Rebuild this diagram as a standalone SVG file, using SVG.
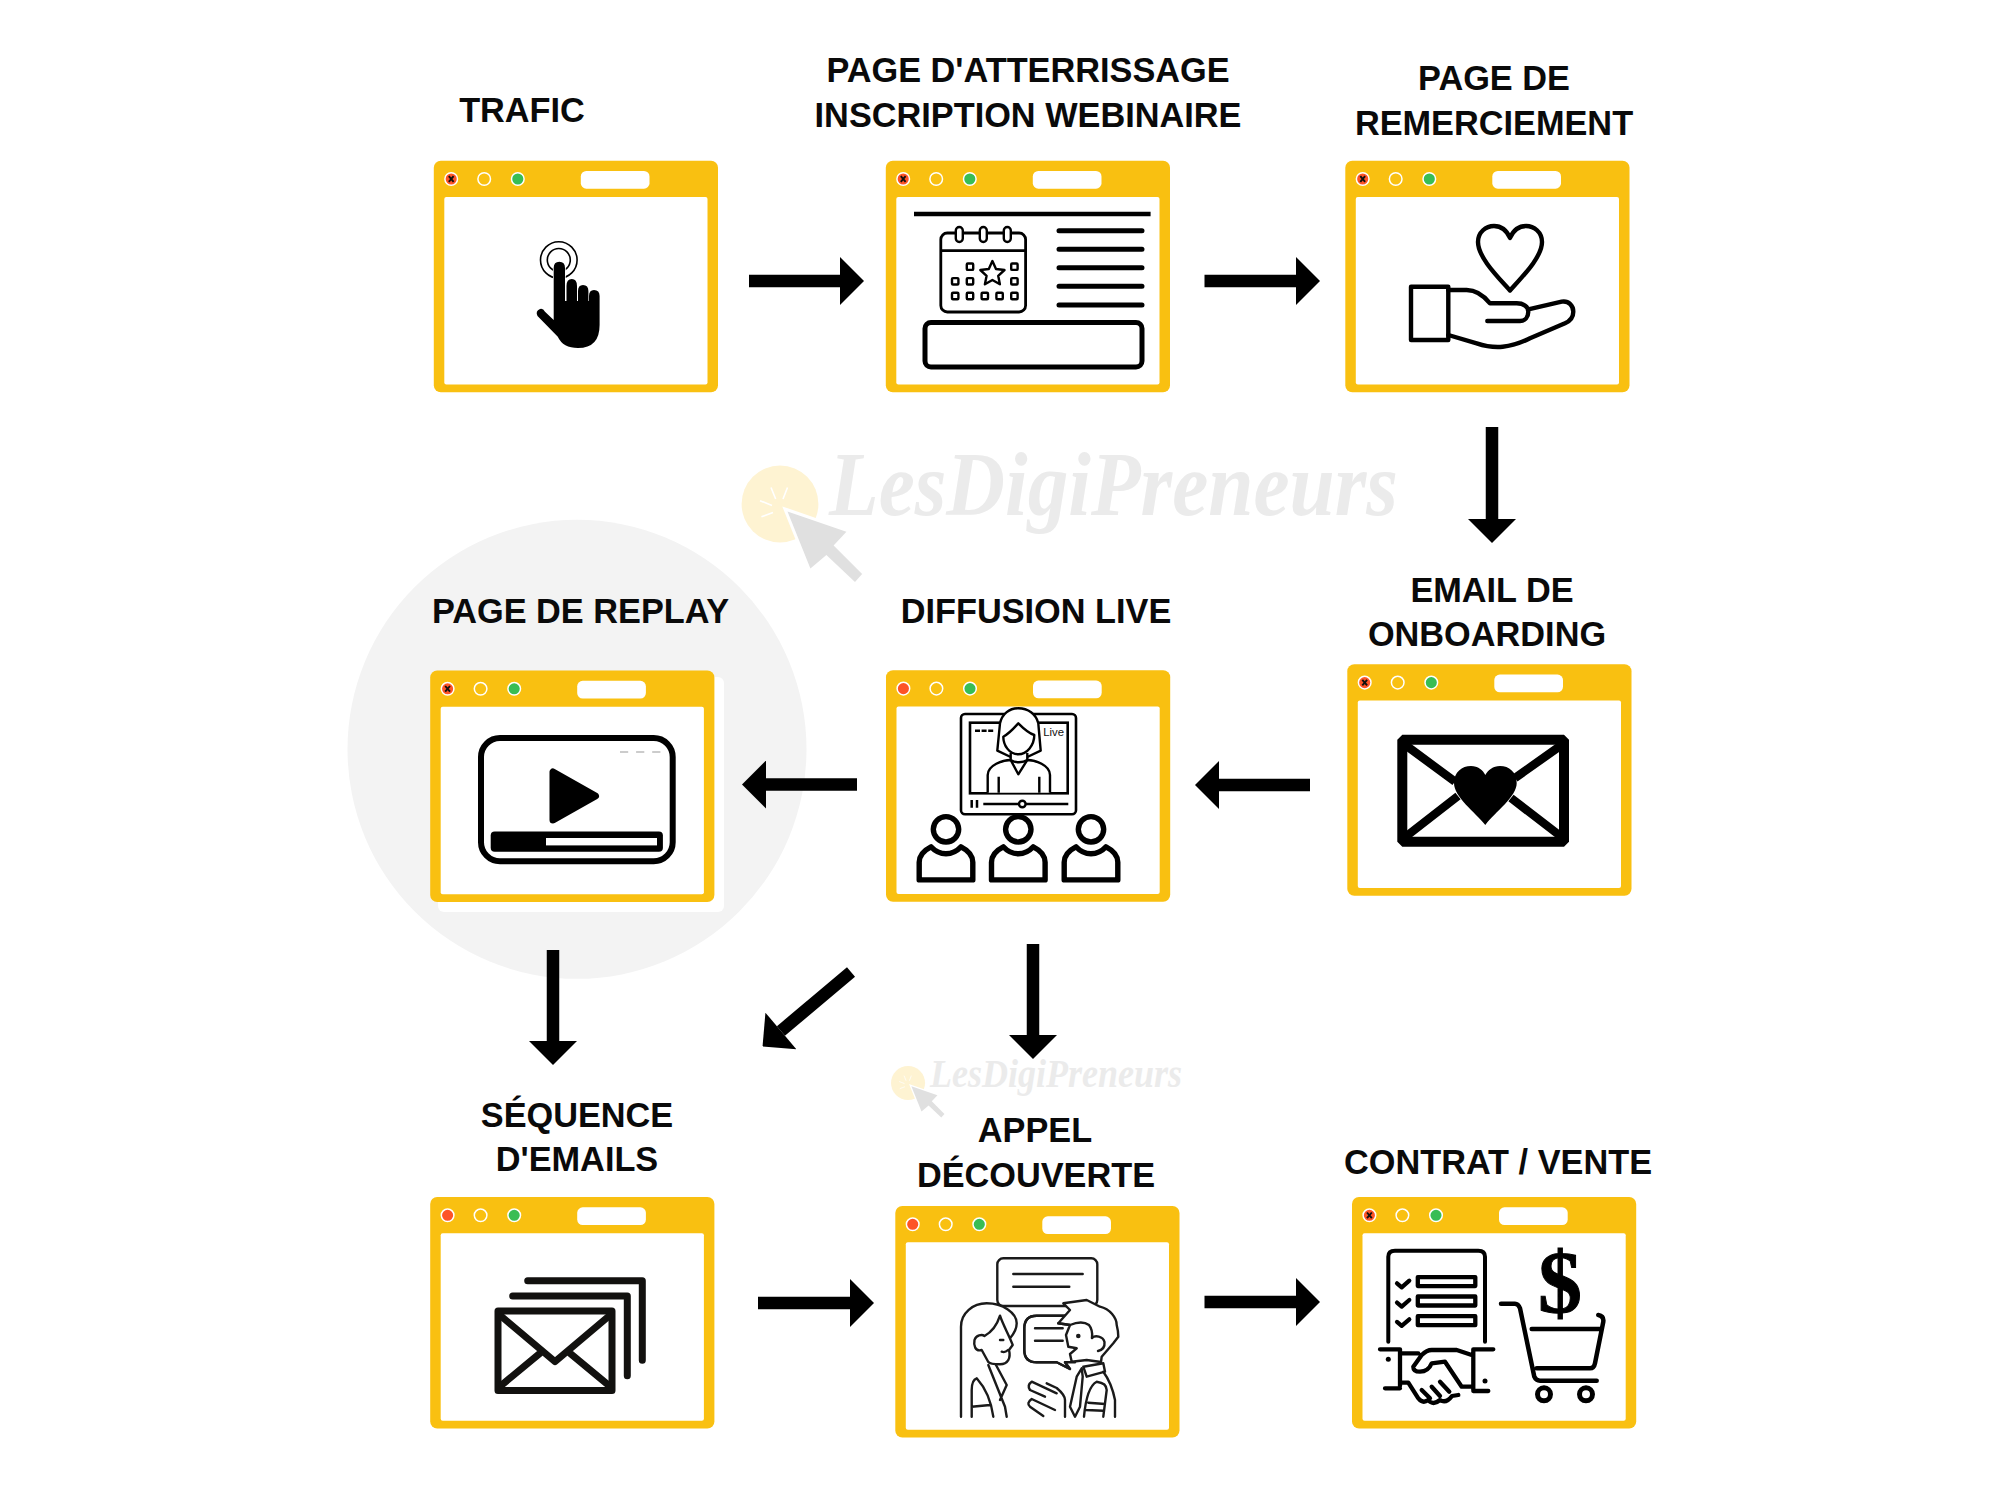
<svg xmlns="http://www.w3.org/2000/svg" xmlns:xlink="http://www.w3.org/1999/xlink" width="2000" height="1500" viewBox="0 0 2000 1500">
<style>
.lbl{font-family:"Liberation Sans",Arial,sans-serif;font-weight:700;font-size:34.3px;fill:#0a0a0a;text-anchor:middle}
.wm{font-family:"Liberation Serif","Times New Roman",serif;font-style:italic;font-weight:700;fill:#ebebeb}
.frame{fill:#f9c011}
.pane{fill:#fff}
.s{fill:none;stroke:#000;stroke-linecap:round;stroke-linejoin:round}
.w{fill:#fff;stroke:#000;stroke-linejoin:round}
.b{fill:#000}
.conn{stroke:#000;stroke-width:12.5;fill:none}
.thin{fill:none;stroke:#1a1a1a;stroke-width:2.4;stroke-linecap:round;stroke-linejoin:round}
.thinw{fill:#fff;stroke:#1a1a1a;stroke-width:2.4;stroke-linecap:round;stroke-linejoin:round}
.dark{fill:none;stroke:#12110f;stroke-width:7;stroke-linecap:round;stroke-linejoin:round}
</style>
<defs>
<marker id="ah" markerUnits="userSpaceOnUse" markerWidth="25" markerHeight="48" refX="1" refY="24" orient="auto" viewBox="0 0 25 48"><path d="M1 0L25 24L1 48Z" fill="#000"/></marker>
<g id="win">
<rect class="frame" width="284.2" height="231.5" rx="7"/>
<rect class="pane" x="10.5" y="36.3" width="263.2" height="187.4" rx="2"/>
<circle cx="17.4" cy="18.3" r="6.3" fill="#fd5427" stroke="#fff" stroke-width="1.5"/>
<circle cx="50.4" cy="18.3" r="6.3" fill="none" stroke="#fff" stroke-width="1.5"/>
<circle cx="84" cy="18.3" r="6.3" fill="#39bd54" stroke="#fff" stroke-width="1.5"/>
<rect class="pane" x="147" y="10.3" width="68.7" height="17.7" rx="5.5"/>
</g>
<path id="xm" d="M-2.4 -2.8L2.4 2.8M2.4 -2.8L-2.4 2.8" stroke="#111" stroke-width="1.9" fill="none"/>
<g id="person">
<circle cx="0" cy="0" r="12.7" fill="#fff" stroke="#000" stroke-width="5.4"/>
<path d="M-26.8 50.6V33C-26.8 25 -20 20 -15 17.5C-10 23 -5 24.5 0 24.5C5 24.5 10 23 15 17.5C20 20 26.8 25 26.8 33V50.6Z" fill="#fff" stroke="#000" stroke-width="5.4" stroke-linejoin="round"/>
</g>
<g id="cursor">
<circle cx="780" cy="504" r="38.4" fill="#fef3d2"/>
<path d="M771 487.5L775.7 499M787.5 487.5L783 499M760 500.7L772 505.4M761.4 516.8L773 512.5" stroke="#fff" stroke-width="1.6" fill="none"/>
<path d="M787.5 511.4L846.4 531.8L833.6 545.4L862.1 573.9L855 582.1L826.4 555L810.4 568.6Z" fill="#e0e0e0" stroke="#fff" stroke-width="6" paint-order="stroke"/>
</g>
</defs>
<rect width="2000" height="1500" fill="#fff"/>
<circle cx="577" cy="749.3" r="229.5" fill="#f3f3f3"/>
<g id="watermark-large">
<use href="#cursor"/>
<text class="wm" x="829" y="515" font-size="90" textLength="569" lengthAdjust="spacingAndGlyphs">LesDigiPreneurs</text>
</g>
<g id="watermark-small">
<use href="#cursor" transform="translate(562.5 859.7) scale(.443)"/>
<text class="wm" x="930" y="1087" font-size="40" textLength="252" lengthAdjust="spacingAndGlyphs">LesDigiPreneurs</text>
</g>
<g id="connectors">
<line class="conn" x1="749" y1="281" x2="840" y2="281" marker-end="url(#ah)"/>
<line class="conn" x1="1204.5" y1="281" x2="1296" y2="281" marker-end="url(#ah)"/>
<line class="conn" x1="1492" y1="427" x2="1492" y2="519" marker-end="url(#ah)"/>
<line class="conn" x1="1310" y1="785" x2="1219" y2="785" marker-end="url(#ah)"/>
<line class="conn" x1="857" y1="784.5" x2="766" y2="784.5" marker-end="url(#ah)"/>
<line class="conn" x1="553" y1="950" x2="553" y2="1041" marker-end="url(#ah)"/>
<line class="conn" x1="851" y1="972" x2="780.9" y2="1031" marker-end="url(#ah)"/>
<line class="conn" x1="1033" y1="944" x2="1033" y2="1035" marker-end="url(#ah)"/>
<line class="conn" x1="758" y1="1303" x2="850" y2="1303" marker-end="url(#ah)"/>
<line class="conn" x1="1204.5" y1="1302" x2="1296" y2="1302" marker-end="url(#ah)"/>
</g>
<g id="node-trafic">
<text class="lbl" x="522" y="122">TRAFIC</text>
<use href="#win" x="433.8" y="160.7"/><use href="#xm" x="451.2" y="179"/>
<circle cx="558.8" cy="260" r="18.3" fill="none" stroke="#000" stroke-width="1.6"/>
<circle cx="558.8" cy="260" r="11.5" fill="none" stroke="#000" stroke-width="1.6"/>
<path class="b" d="M553.7 268Q553.7 261.7 559.3 261.7Q565 261.7 565 268V301H566.5V286Q566.5 279 571.8 279Q577 279 577 286V301H578V291Q578 285 583 285Q588.4 285 588.4 291V301H589V296Q589 290 594 290Q599.6 290 599.6 296V325Q599.6 348 578 348Q563 348 557.8 336.7L537.5 316Q535 311 540 309Q543 308 545 311.7L553.7 320Z" stroke="#fff" stroke-width="1.5" paint-order="stroke"/>
</g>
<g id="node-atterrissage">
<text class="lbl" x="1028" y="82">PAGE D'ATTERRISSAGE</text>
<text class="lbl" x="1028" y="127">INSCRIPTION WEBINAIRE</text>
<use href="#win" x="885.8" y="160.7"/><use href="#xm" x="903.2" y="179"/>
<path d="M914 214H1150.6" stroke="#000" stroke-width="4.4"/>
<rect x="940.8" y="233" width="84.8" height="79" rx="6.5" fill="#fff" stroke="#000" stroke-width="2.8"/>
<path d="M940.8 250.7H1025.6" stroke="#000" stroke-width="2.8"/>
<g fill="#fff" stroke="#000" stroke-width="2.4">
<rect x="955.8" y="227" width="7" height="15" rx="3.5"/><rect x="979.8" y="227" width="7" height="15" rx="3.5"/><rect x="1003.8" y="227" width="7" height="15" rx="3.5"/>
<rect x="966.8" y="263.5" width="6.4" height="6.4" rx="1"/><rect x="1011.2" y="263.5" width="6.4" height="6.4" rx="1"/>
<rect x="952" y="278.1" width="6.4" height="6.4" rx="1"/><rect x="966.8" y="278.1" width="6.4" height="6.4" rx="1"/><rect x="1011.2" y="278.1" width="6.4" height="6.4" rx="1"/>
<rect x="952" y="292.8" width="6.4" height="6.4" rx="1"/><rect x="966.8" y="292.8" width="6.4" height="6.4" rx="1"/><rect x="981.6" y="292.8" width="6.4" height="6.4" rx="1"/><rect x="996.4" y="292.8" width="6.4" height="6.4" rx="1"/><rect x="1011.2" y="292.8" width="6.4" height="6.4" rx="1"/>
</g>
<path d="M992.4 261L996 269L1004.5 270L998.2 275.8L999.9 284.3L992.4 280L984.9 284.3L986.6 275.8L980.3 270L988.8 269Z" fill="#fff" stroke="#000" stroke-width="2.4" stroke-linejoin="round"/>
<path class="s" stroke-width="5" d="M1059 230.7H1142M1059 249.3H1142M1059 267.7H1142M1059 286.3H1142M1059 305H1142"/>
<rect x="925" y="322.5" width="217" height="44.5" rx="6" fill="#fff" stroke="#000" stroke-width="5"/>
</g>
<g id="node-remerciement">
<text class="lbl" x="1494" y="90">PAGE DE</text>
<text class="lbl" x="1494" y="135">REMERCIEMENT</text>
<use href="#win" x="1345.3" y="160.7"/><use href="#xm" x="1362.7" y="179"/>
<path class="s" stroke-width="4.4" d="M1510 290.5C1497 276 1478 257 1478 242C1478 232 1486 226 1494 226C1502 226 1507 231 1510 238C1513 231 1518 226 1526 226C1534 226 1542 232 1542 242C1542 257 1523 276 1510 290.5Z"/>
<rect x="1411" y="286.7" width="37.3" height="53.3" fill="none" stroke="#000" stroke-width="4.4" stroke-linejoin="round"/>
<path class="s" stroke-width="4.4" d="M1448.3 290H1466.7C1476 290 1484 296 1490 303.3H1516.7C1524 303.3 1528.3 307 1528.3 311.7C1528.3 317 1525 321 1520 321H1487.3M1528.3 309.3L1561.7 301.7C1569 300.5 1573.3 306 1573.3 311.7C1573.3 317 1570 321 1565 323.3L1530 338.3C1510 348 1495 349.5 1476.7 343.3L1448.3 335"/>
</g>
<g id="node-onboarding">
<text class="lbl" x="1492" y="601.5">EMAIL DE</text>
<text class="lbl" x="1487" y="645.5">ONBOARDING</text>
<use href="#win" x="1347.3" y="664.3"/><use href="#xm" x="1364.7" y="682.6"/>
<rect x="1402.3" y="739.7" width="161.7" height="102" fill="#fff" stroke="#000" stroke-width="10" stroke-linejoin="bevel"/>
<path d="M1404 744L1455 781.7M1563 744L1515 778M1404 838L1458 796M1563 838L1511 798" stroke="#000" stroke-width="8.5" fill="none"/>
<path class="b" d="M1485.3 825C1475 812 1454 797 1454 783C1454 772 1462 766 1471 766C1478 766 1483 770 1485.3 775C1488 770 1493 766 1500 766C1509 766 1516.7 772 1516.7 783C1516.7 797 1495 812 1485.3 825Z"/>
</g>
<g id="node-live">
<text class="lbl" x="1036" y="623">DIFFUSION LIVE</text>
<use href="#win" x="886" y="670.3"/>
<rect x="961" y="714" width="115" height="100.3" rx="4" fill="#fff" stroke="#000" stroke-width="2.6"/>
<rect x="970" y="722.7" width="97.7" height="70.6" fill="none" stroke="#000" stroke-width="2.6"/>
<path d="M975 730.7H993.3" stroke="#000" stroke-width="2.6" stroke-dasharray="5 1.6"/>
<text x="1043.3" y="736" font-family="Liberation Sans,Arial,sans-serif" font-size="11.3" fill="#111">Live</text>
<path d="M987.7 792.7V775C987.7 765 1003 760 1010.7 760L1018.3 774.3L1027.3 760C1035 760 1050 765 1050 775V792.7M998.7 776.7V792.7M1039.3 776.7V792.7" fill="#fff" stroke="#000" stroke-width="2.4" stroke-linejoin="round"/>
<path d="M997.3 750.7L1000 723.3C1002 714 1009 708.3 1018.3 708.3C1028 708.3 1036 714 1038.3 723.3L1040.7 750.7L1027.3 757L1010.7 757Z" fill="#fff" stroke="#000" stroke-width="2.4" stroke-linejoin="round"/>
<path d="M1010.7 753V760C1015 763 1023 763 1027.3 760V753" fill="#fff" stroke="#000" stroke-width="2.4"/>
<path d="M1003.3 736.7C1010 733 1014 728 1018.3 723.3C1023 728 1028 733 1034.3 735C1034.3 745 1027 754.3 1018.3 754.3C1009 754.3 1003.3 745 1003.3 736.7Z" fill="#fff" stroke="#000" stroke-width="2.4" stroke-linejoin="round"/>
<path d="M971.7 800V807.7M977 800V807.7M983.3 804H1068.3" stroke="#000" stroke-width="2.5" fill="none"/>
<circle cx="1022.3" cy="804" r="3.3" fill="#fff" stroke="#000" stroke-width="2.4"/>
<use href="#person" x="946" y="829.3"/><use href="#person" x="1018.3" y="829.3"/><use href="#person" x="1091" y="829.3"/>
</g>
<g id="node-replay">
<text class="lbl" x="580.6" y="623">PAGE DE REPLAY</text>
<rect x="438" y="677" width="286" height="235" rx="6" fill="#fff"/>
<use href="#win" x="430.2" y="670.5"/><use href="#xm" x="447.6" y="688.8"/>
<rect x="481" y="738" width="191.7" height="123.3" rx="19" fill="#fff" stroke="#000" stroke-width="6"/>
<path d="M620 752H661" stroke="#999" stroke-width="1" stroke-dasharray="8.2 7.9"/>
<path class="b" d="M553 772V820L595.5 796Z" stroke="#000" stroke-width="7" stroke-linejoin="round"/>
<rect class="b" x="490.7" y="831.4" width="172.2" height="20.4" rx="4"/>
<rect class="pane" x="546" y="838" width="111" height="7.4"/>
</g>
<g id="node-sequence">
<text class="lbl" x="577" y="1127">SÉQUENCE</text>
<text class="lbl" x="577" y="1171">D'EMAILS</text>
<use href="#win" x="430.2" y="1197"/>
<path class="dark" d="M527.7 1280.7H642.3V1360.3M512.7 1296H627.3V1375.7"/>
<rect x="498" y="1311" width="114" height="79.5" fill="#fff" stroke="#12110f" stroke-width="7" stroke-linejoin="round"/>
<path class="dark" stroke-width="6.5" d="M501.7 1316.7L555 1361.7L608.3 1316.7M501.7 1385L540 1353.3M608.3 1385L570 1353.3"/>
</g>
<g id="node-appel">
<text class="lbl" x="1035" y="1142">APPEL</text>
<text class="lbl" x="1036" y="1187">DÉCOUVERTE</text>
<use href="#win" x="895.3" y="1206"/>
<rect class="thinw" x="997.3" y="1258.3" width="100" height="47.7" rx="6"/>
<path class="thin" d="M1013.3 1274H1082.7M1013.3 1286.7H1069.3"/>
<path class="thinw" d="M1065 1315.7H1036.7Q1024.3 1315.7 1024.3 1328.3V1350Q1024.3 1362.3 1036.7 1362.3H1056.7L1070 1369L1065 1362.3H1075V1315.7Z" stroke="none"/>
<path class="thin" d="M1065 1315.7H1036.7Q1024.3 1315.7 1024.3 1328.3V1350Q1024.3 1362.3 1036.7 1362.3H1056.7L1070 1369L1065 1362.3M1035 1328.3H1062.7M1035 1340.7H1062.7"/>
<path class="thinw" d="M961 1416.7V1326.7C961 1313 973 1303.3 986.7 1303.3C1003 1303.3 1016.7 1313 1016.7 1323.3C1016.7 1330 1012 1336 1010 1338.3"/>
<path class="thinw" d="M1000 1315.7C1003 1325 1009 1335 1012.7 1345L1009 1350C1011 1358 1008 1364.3 1000 1364.3C995 1364.3 990 1364 988.3 1362L981.7 1350C975 1352 973.5 1345 974.5 1340C976 1335 982 1334 984.5 1336C992 1332 997 1325 1000 1315.7Z"/>
<path class="thin" d="M1000 1340H1003.3M1001.7 1351.7Q1005 1353 1008 1350M988.3 1365L1005 1406.7L1006.7 1416.7M996 1365L1006.7 1385L1000 1400M971.7 1416.7V1390Q971.7 1380 976.7 1378.3Q990 1393 993.3 1416.7M971.7 1406.7L990 1405"/>
<path class="thinw" d="M1058.3 1323.3L1070 1310L1063.3 1303.3L1086.7 1300L1100 1306.7C1110 1309 1116.7 1318 1116.7 1325C1118 1330 1118.3 1334 1118.3 1336.7L1113.3 1343.3L1101.7 1356.7L1101 1362L1086.7 1360L1071.7 1361.7L1070 1354L1076.7 1348.3L1068.3 1346.7L1066 1335L1070 1325Z"/>
<path class="thin" d="M1058.3 1323.3L1070 1325Q1082 1320 1089 1325Q1093 1330 1092 1338"/>
<path class="thin" d="M1092 1338C1095 1335 1103 1336 1104.5 1342C1105 1347 1102 1350 1098 1351"/>
<circle cx="1078.3" cy="1336" r="2.3" fill="#1a1a1a"/>
<path class="thinw" d="M1083.3 1366.7L1103.3 1363.3L1105 1371.7L1086.7 1376.7Z"/>
<path class="thinw" d="M1081.7 1368.3L1076.7 1376.7L1070 1406.7L1075 1416.7L1080 1406.7L1082.7 1376.7Z"/>
<path class="thin" d="M1115 1416.7V1400Q1111.7 1383 1103.3 1371.7M1084 1416.7Q1086.7 1387 1096.7 1381.7Q1106.7 1383 1106.7 1390L1103.3 1416.7M1088.3 1402.7L1105 1404M1086 1410L1103.3 1410.7"/>
<path class="thin" d="M1056.7 1393.3L1031.7 1381.7Q1026.7 1385 1030 1390L1045 1396.7M1046.7 1383.3L1056.7 1388Q1065 1395 1065 1400V1416.7M1055 1410L1031.7 1399Q1026 1403 1030 1406.7L1043.3 1416"/>
</g>
<g id="node-contrat">
<text class="lbl" x="1498" y="1174">CONTRAT / VENTE</text>
<use href="#win" x="1352" y="1197"/><use href="#xm" x="1369.4" y="1215.3"/>
<path class="s" stroke-width="4" d="M1388.3 1341.7V1256.7Q1388.3 1250.7 1395 1250.7H1478.3Q1485 1250.7 1485 1256.7V1341.7"/>
<g fill="#fff" stroke="#000" stroke-width="4.3" stroke-linejoin="round">
<rect x="1417.8" y="1277.1" width="57.5" height="9"/><rect x="1417.8" y="1296.5" width="57.5" height="9"/><rect x="1417.8" y="1316.2" width="57.5" height="9"/>
</g>
<path class="s" stroke-width="4.2" d="M1397 1283.3L1401.7 1287.3L1409.3 1280.7M1397 1302.6L1401.7 1306.6L1409.3 1300M1397 1321.9L1401.7 1325.9L1409.3 1319.3"/>
<path class="s" stroke-width="4.3" d="M1380 1349.3H1400V1386M1385 1388.3H1400M1493.3 1349.3H1473.3V1390M1488.3 1391H1473.3M1400 1353.3H1418.3M1471.7 1355L1456.7 1350H1431.7Q1426.7 1350 1421.7 1355L1413.3 1366.7Q1413.3 1371.7 1420 1371.7Q1428.3 1371.7 1431.7 1363.3L1445 1361.7L1461.7 1386.7H1473.3M1401.7 1382.7H1408.3L1418.3 1398.3Q1422.7 1404 1428.3 1400Q1433 1406 1440 1400Q1446 1404 1452 1396L1458.3 1395M1421.7 1390L1430 1398.3M1431.7 1386.7L1440 1396M1440 1381.7L1449.3 1391.7"/>
<circle class="b" cx="1388.3" cy="1359.3" r="2.5"/><circle class="b" cx="1485" cy="1381" r="2.5"/>
<text x="1560" y="1312" font-family="Liberation Serif,Times New Roman,serif" font-weight="700" font-size="88" text-anchor="middle" fill="#000" stroke="#000" stroke-width="1">$</text>
<path class="s" stroke-width="4.5" d="M1501 1303.7H1515Q1518.3 1303.7 1520 1308.3L1534.3 1376.7Q1536 1380.7 1540 1380.7H1596.7M1531.7 1329H1600M1598.3 1315Q1604 1316 1603.3 1321.7L1595 1363.3Q1594 1368.3 1590 1368.3H1536.7"/>
<circle cx="1544" cy="1394.3" r="6.5" fill="#fff" stroke="#000" stroke-width="5"/>
<circle cx="1586" cy="1394.3" r="6.5" fill="#fff" stroke="#000" stroke-width="5"/>
</g>
</svg>
